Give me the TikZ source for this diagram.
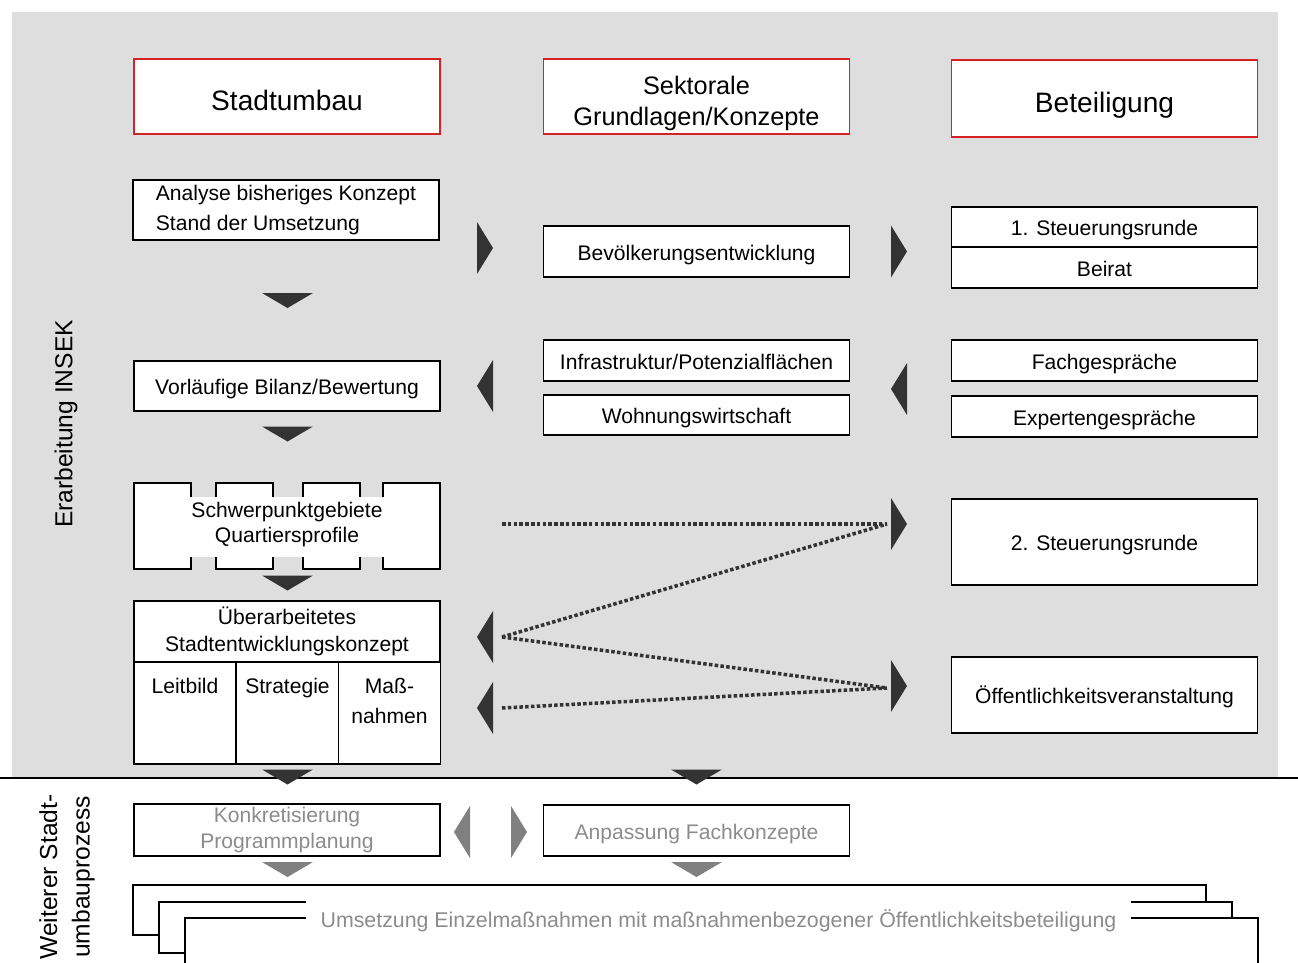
\documentclass[tikz,border=0pt]{standalone}
\usepackage{fontspec}
\setmainfont{Liberation Sans}
\usetikzlibrary{positioning, calc}
\definecolor{BgGray}{rgb}{0.87, 0.87, 0.87}
\definecolor{HeadRed}{rgb}{0.84, 0.13, 0.15}
\definecolor{ArrDark}{rgb}{0.2, 0.2, 0.2}
\definecolor{ArrGray}{rgb}{0.5, 0.5, 0.5}
\definecolor{TxtGray}{rgb}{0.55, 0.55, 0.55}

\begin{document}
\begin{tikzpicture}[x=0.02cm, y=-0.02cm, line width=0.8pt,
    frame/.style={draw=black, fill=white, minimum width=6.12cm, minimum height=#1,
        inner sep=0pt, font=\fontsize{12}{15}\selectfont},
    frame/.default=1.02cm,
    box/.style={frame=#1, text height=10pt, text depth=0pt},
    box/.default=1.02cm,
    headbox/.style={draw=HeadRed, fill=white, minimum width=6.12cm, minimum height=1.5cm,
        inner sep=0pt, text height=16pt, text depth=0pt, font=\fontsize{16}{19}\selectfont},
    cell/.style={draw=black, fill=white, minimum width=2.04cm, minimum height=2.04cm},
    celltext/.style={anchor=north, inner sep=0pt, align=center, font=\fontsize{12}{17}\selectfont},
    dotline/.style={ArrDark, line width=2pt, dash pattern=on 2pt off 1.3pt},
    rarr/.pic={\fill (-8,-26) -- (8,0) -- (-8,26) -- cycle;},
    larr/.pic={\fill (8,-26) -- (-8,0) -- (8,26) -- cycle;},
    darr/.pic={\fill (-25.5,-7.5) -- (25.5,-7.5) -- (0,7.5) -- cycle;}]
    \useasboundingbox (0,0) rectangle (1298,963);
    \fill[white] (0,0) rectangle (1298,963);
    % Background of the first phase
    \fill[BgGray] (12,12) rectangle (1278,778);
    \draw (0,778) -- (1298,778);

    % Headers
    \node[headbox] (stadt) at (287,96.5) {Stadtumbau};
    \node[headbox] (sektor) at (696.5,96.5) {};
    \node[align=center, inner sep=0pt, font=\fontsize{14.4}{17.6}\selectfont] (sektortxt) at (696.5,103) {Sektorale\\Grundlagen/Konzepte};
    \node[headbox, minimum height=1.54cm] (beteil) at (1104.5,98.5) {Beteiligung};

    % Left column
    \node[frame=1.2cm, align=left, font=\fontsize{12}{17.5}\selectfont] (analyse) at (286,210) {Analyse bisheriges Konzept\\Stand der Umsetzung};
    \node[box=1.0cm] (bilanz) at (287,386) {Vorläufige Bilanz/Bewertung};
    % Schwerpunktgebiete as stacked sheets
    \fill[white] (134,497) rectangle (440,557);
    \foreach \a/\b in {134/191, 216/273, 303/360, 383/440} {
        \fill[white] (\a,483) rectangle (\b,497);
        \fill[white] (\a,557) rectangle (\b,569);
        \draw (\a,497) -- (\a,483) -- (\b,483) -- (\b,497);
        \draw (\a,557) -- (\a,569) -- (\b,569) -- (\b,557);
    }
    \draw (134,483) -- (134,569);
    \draw (440,483) -- (440,569);
    \node[align=center, inner sep=0pt, font=\fontsize{12}{14.7}\selectfont] (schwer) at (287,524.5) {Schwerpunktgebiete\\Quartiersprofile};
    \node[frame=1.22cm, align=center] (ueber) at (287,631.5) {Überarbeitetes\\Stadtentwicklungskonzept};
    \node[cell] (leit) at (185,713) {};
    \node[cell] (strat) at (287.5,713) {};
    \node[cell] (mass) at (389.5,713) {};
    \node[celltext] (leittxt) at (185,678) {Leitbild};
    \node[celltext] (strattxt) at (287.5,678) {Strategie};
    \node[celltext] (masstxt) at (389.5,678) {Maß-\\nahmen};

    % Middle column
    \node[box] (bevoelk) at (696.5,251.5) {Bevölkerungsentwicklung};
    \node[box=0.82cm] (infra) at (696.5,360.5) {Infrastruktur/Potenzialflächen};
    \node[box=0.8cm] (wohnung) at (696.5,415) {Wohnungswirtschaft};

    % Right column
    \node[box=0.8cm] (steuer1) at (1104.5,227) {1. Steuerungsrunde};
    \node[box=0.82cm] (beirat) at (1104.5,267.5) {Beirat};
    \node[box=0.82cm] (fach) at (1104.5,360.5) {Fachgespräche};
    \node[box=0.82cm] (experten) at (1104.5,416.5) {Expertengespräche};
    \node[box=1.72cm] (steuer2) at (1104.5,542) {2. Steuerungsrunde};
    \node[box=1.52cm] (oeff) at (1104.5,695) {Öffentlichkeitsveranstaltung};

    % Arrows of the first phase
    \pic[ArrDark] at (287.5,300.5) {darr};
    \pic[ArrDark] at (287.5,434) {darr};
    \pic[ArrDark] at (287.5,583) {darr};
    \pic[ArrDark] at (485,248) {rarr};
    \pic[ArrDark] at (899,251.5) {rarr};
    \pic[ArrDark] at (485,386) {larr};
    \pic[ArrDark] at (899,389) {larr};
    \pic[ArrDark] at (899,524) {rarr};
    \pic[ArrDark] at (485,637) {larr};
    \pic[ArrDark] at (485,708) {larr};
    \pic[ArrDark] at (899,686) {rarr};

    % Dotted links
    \coordinate (dS) at (502,524);
    \coordinate (dU) at (502,637);
    \coordinate (dM) at (502,708);
    \coordinate (dT) at (887,524);
    \coordinate (dO) at (887,688);
    \draw[dotline] (dS) -- (dT);
    \draw[dotline] (dU) -- (dT);
    \draw[dotline] (dU) -- (dO);
    \draw[dotline] (dM) -- (dO);

    \pic[ArrDark] at (287.5,777) {darr};
    \pic[ArrDark] at (696.5,777) {darr};

    % Further process
    \node[frame=1.04cm, align=center, text=TxtGray] (konkret) at (287,830) {Konkretisierung\\Programmplanung};
    \node[box, text=TxtGray] (anpass) at (696.5,830.5) {Anpassung Fachkonzepte};
    \pic[ArrGray] at (462,832) {larr};
    \pic[ArrGray] at (519,832) {rarr};
    \pic[ArrGray] at (287.5,869.5) {darr};
    \pic[ArrGray] at (696.5,869.5) {darr};

    \fill[white, draw=black] (133,885) rectangle (1206,935);
    \fill[white, draw=black] (159,902) rectangle (1232,953);
    \fill[white] (185,918) rectangle (1258,963);
    \draw (185,963) -- (185,918) -- (1258,918) -- (1258,963);
    \node[fill=white, text=TxtGray, inner xsep=0.3cm, minimum height=0.84cm,
        font=\fontsize{12.15}{15}\selectfont] (umsetz) at (718.5,921)
        {Umsetzung Einzelmaßnahmen mit maßnahmenbezogener Öffentlichkeitsbeteiligung};

    % Side labels
    \node[rotate=90, font=\fontsize{14}{17}\selectfont] (insek) at (66,424) {Erarbeitung INSEK};
    \node[rotate=90, align=center, font=\fontsize{14}{18.5}\selectfont] (weiter) at (67,877) {Weiterer Stadt-\\umbauprozess};
\end{tikzpicture}
\end{document}
